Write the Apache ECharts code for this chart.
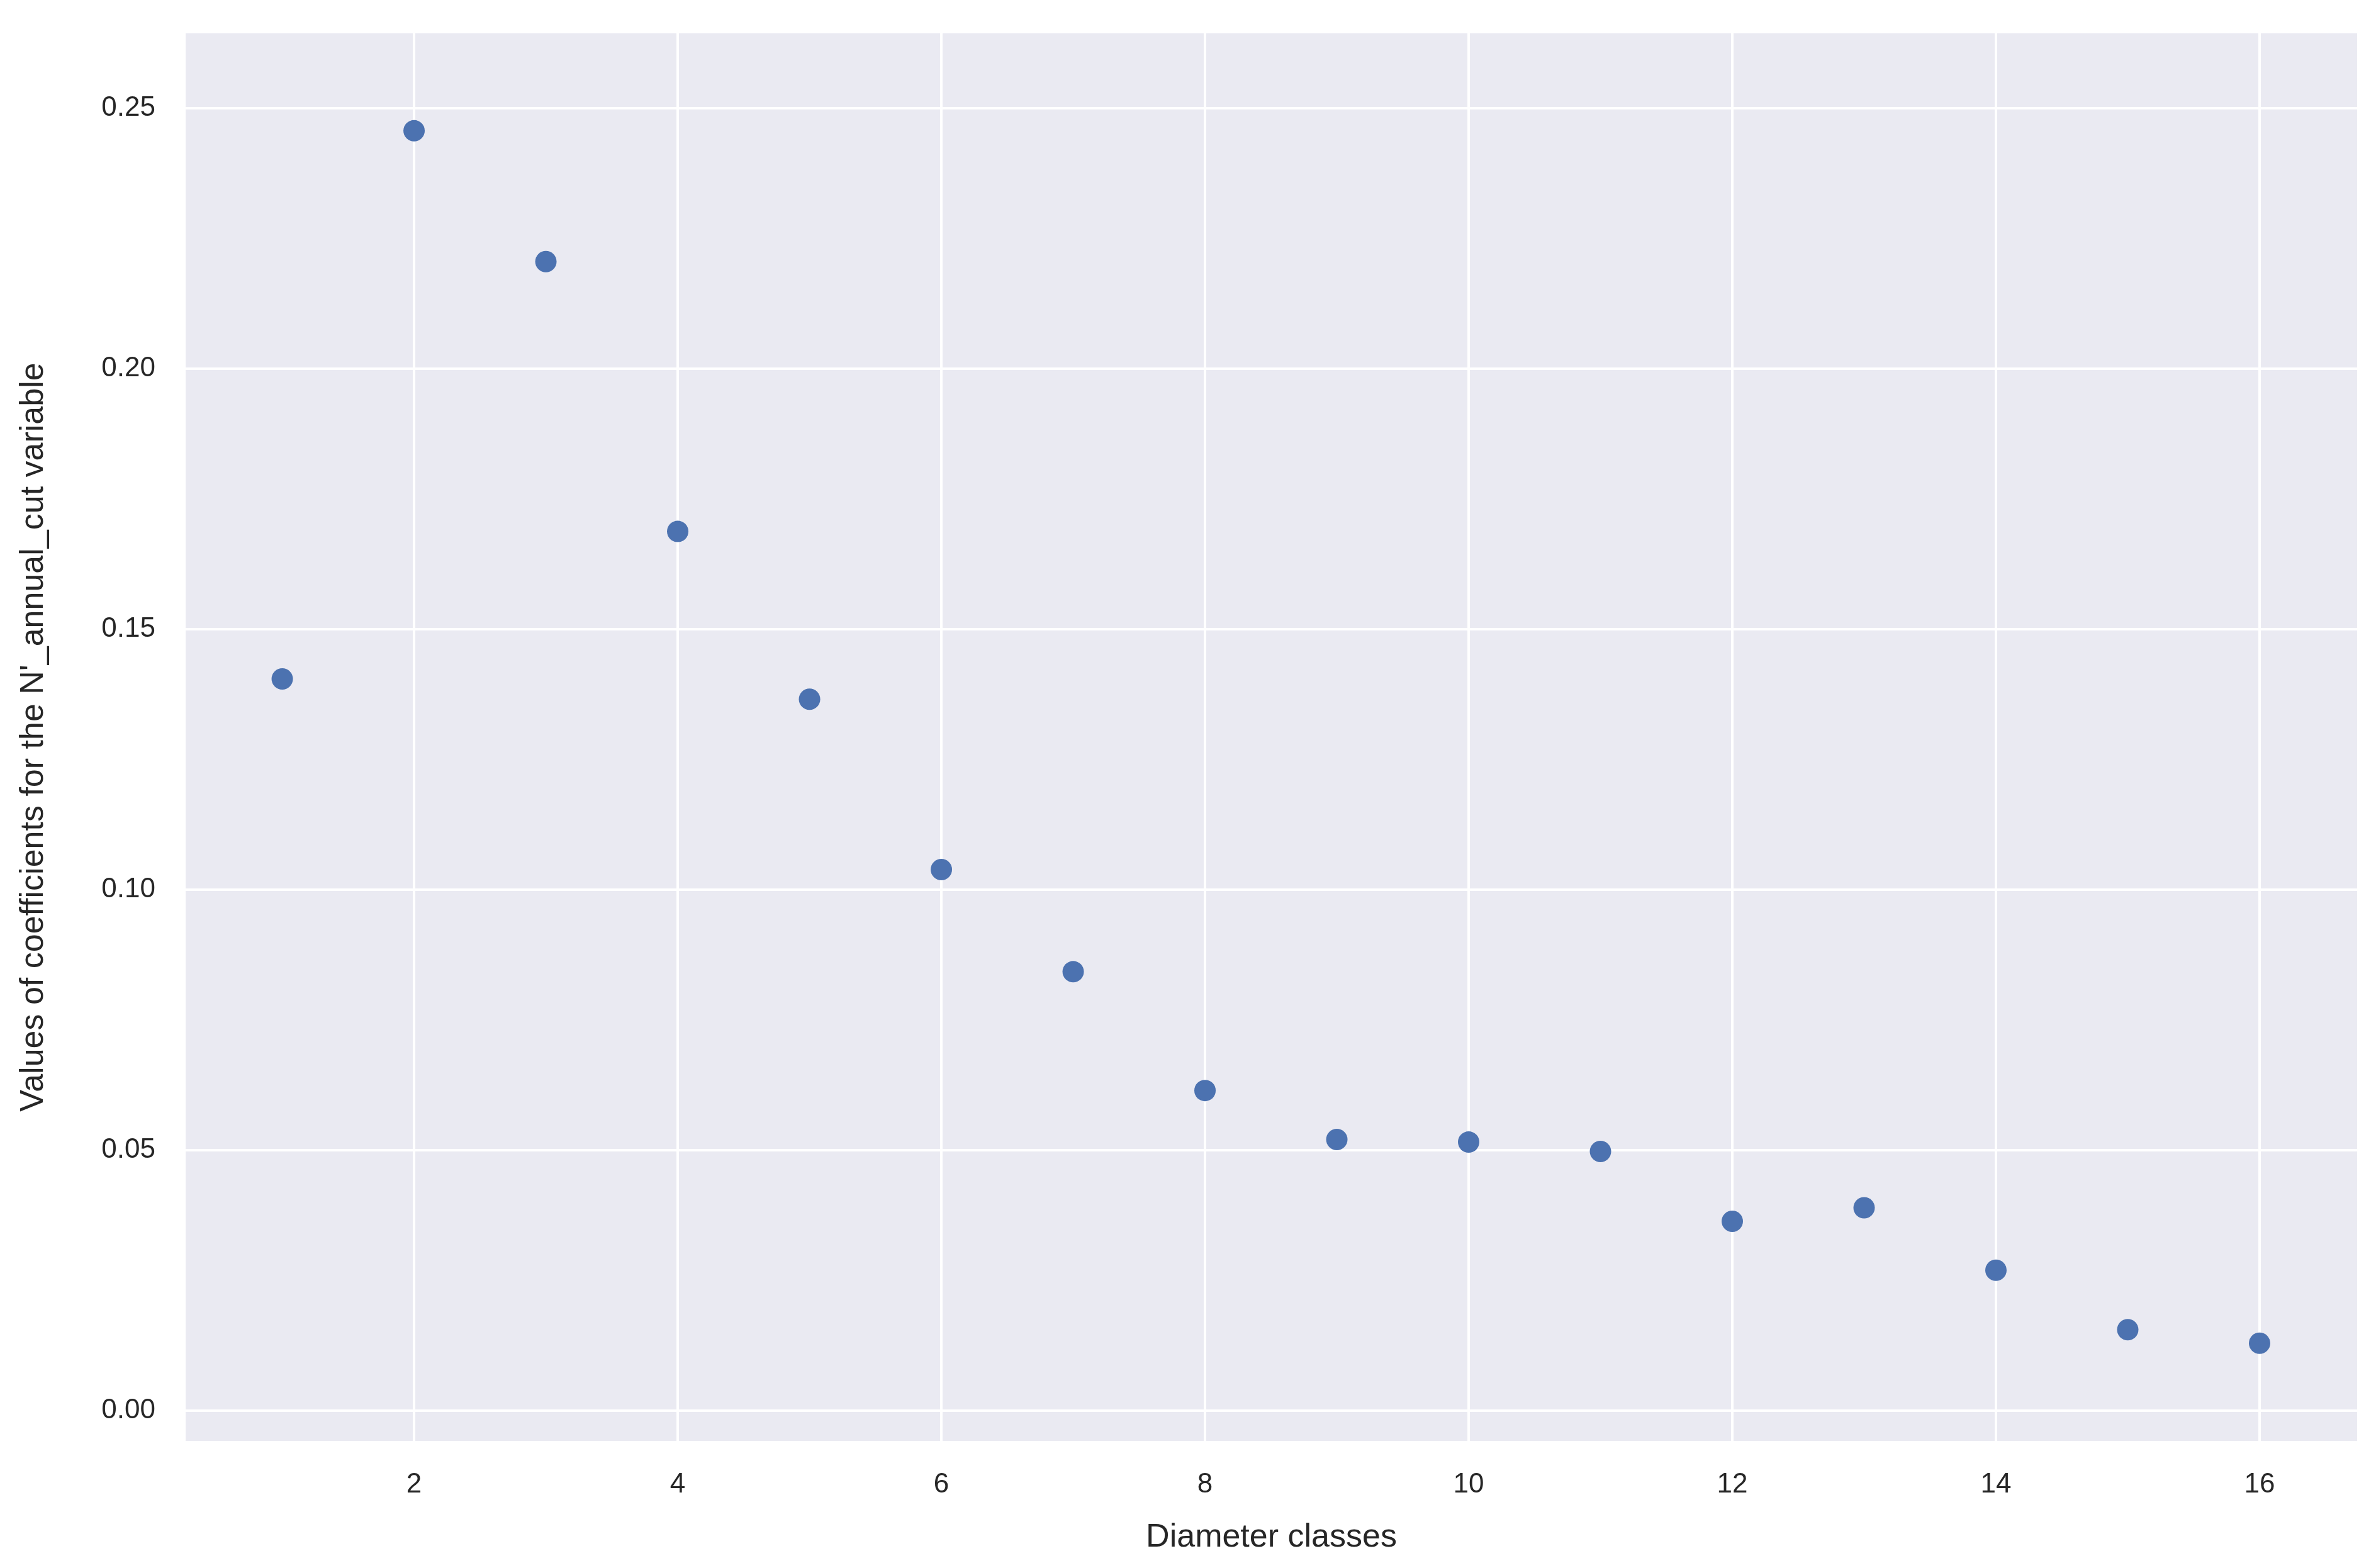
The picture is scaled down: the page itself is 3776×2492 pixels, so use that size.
<!DOCTYPE html>
<html>
<head>
<meta charset="utf-8">
<script src="https://cdn.jsdelivr.net/npm/echarts@6/dist/echarts.min.js"></script>
<style>html,body{margin:0;padding:0;background:#fff}#chart{width:3776px;height:2492px}</style>
</head>
<body>
<div id="chart"></div>
<script>
var classes = [1,2,3,4,5,6,7,8,9,10,11,12,13,14,15,16];
var coefs = [0.1404,0.2456,0.2205,0.1687,0.1365,0.1038,0.0842,0.0614,0.0520,0.0515,0.0497,0.0363,0.0389,0.0269,0.0155,0.0129];
var xTicks = [2,4,6,8,10,12,14,16];
var yTicks = [0,0.05,0.10,0.15,0.20,0.25];

var chart = echarts.init(document.getElementById('chart'));
var font = 'Liberation Sans, Arial, sans-serif';
chart.setOption({
  animation: false,
  grid: {left: 295, right: 30, top: 53, bottom: 202, show: true, backgroundColor: '#EAEAF2', borderWidth: 0},
  xAxis: {
    type: 'value', min: 0.267, max: 16.74,
    name: 'Diameter classes', nameLocation: 'middle', nameGap: 128,
    nameTextStyle: {fontSize: 52, color: '#262626', fontFamily: font},
    axisLine: {show: false},
    axisTick: {show: false, customValues: xTicks},
    axisLabel: {customValues: xTicks, fontSize: 44, color: '#262626', fontFamily: font, margin: 48},
    splitLine: {show: true, lineStyle: {color: '#fff', width: 4}}
  },
  yAxis: {
    type: 'value', min: -0.00585, max: 0.2643,
    name: "Values of coefficients for the N'_annual_cut variable", nameLocation: 'middle', nameGap: 215,
    nameTextStyle: {fontSize: 52, color: '#262626', fontFamily: font},
    axisLine: {show: false},
    axisTick: {show: false, customValues: yTicks},
    axisLabel: {customValues: yTicks, fontSize: 44, color: '#262626', fontFamily: font, margin: 48,
      formatter: function (v) { return v.toFixed(2); }},
    splitLine: {show: true, lineStyle: {color: '#fff', width: 4}}
  },
  series: [{
    type: 'scatter', symbolSize: 34,
    itemStyle: {color: '#4C72B0', opacity: 1},
    data: classes.map(function (c, i) { return [c, coefs[i]]; })
  }]
});
</script>
</body>
</html>
